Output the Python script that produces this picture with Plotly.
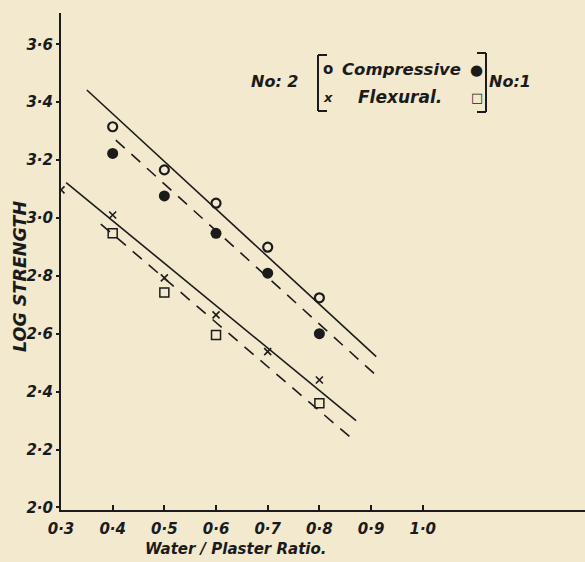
import plotly.graph_objects as go

# ---- data ----
ratio = [0.4, 0.5, 0.6, 0.7, 0.8]
comp_no2 = [3.315, 3.166, 3.051, 2.899, 2.724]     # open circles
comp_no1 = [3.223, 3.076, 2.947, 2.809, 2.600]     # filled circles
flex_ratio_no2 = [0.3, 0.4, 0.5, 0.6, 0.7, 0.8]
flex_no2 = [3.097, 3.010, 2.793, 2.665, 2.538, 2.440]  # crosses
flex_ratio_no1 = [0.4, 0.5, 0.6, 0.8]
flex_no1 = [2.947, 2.742, 2.596, 2.360]            # open squares

# fitted lines (end points)
fit_comp_no2_x = [0.350, 0.910]
fit_comp_no2_y = [3.442, 2.521]
fit_comp_no1_x = [0.406, 0.918]
fit_comp_no1_y = [3.269, 2.443]
fit_flex_no2_x = [0.310, 0.871]
fit_flex_no2_y = [3.122, 2.300]
fit_flex_no1_x = [0.377, 0.866]
fit_flex_no1_y = [2.979, 2.233]

x_ticks = [0.3, 0.4, 0.5, 0.6, 0.7, 0.8, 0.9, 1.0]
x_ticklabels = ["0·3", "0·4", "0·5", "0·6", "0·7", "0·8", "0·9", "1·0"]
y_ticks = [2.0, 2.2, 2.4, 2.6, 2.8, 3.0, 3.2, 3.4, 3.6]
y_ticklabels = ["2·0", "2·2", "2·4", "2·6", "2·8", "3·0", "3·2", "3·4", "3·6"]

# ---- styling ----
INK = "#1b1b1b"
BG = "#f2e9cf"
FONT = "DejaVu Sans"
W, H = 585, 562
L, R, T, B = 61, 0, 13, 52

def pp(x, y):
    """pixel position -> paper coordinates"""
    return (x - L) / (W - L - R), (H - B - y) / (H - T - B)

fig = go.Figure()

fig.add_trace(go.Scatter(x=fit_comp_no2_x, y=fit_comp_no2_y, mode="lines",
                         line=dict(color=INK, width=1.6)))
fig.add_trace(go.Scatter(x=fit_comp_no1_x, y=fit_comp_no1_y, mode="lines",
                         line=dict(color=INK, width=1.6, dash="12px,9px")))
fig.add_trace(go.Scatter(x=fit_flex_no2_x, y=fit_flex_no2_y, mode="lines",
                         line=dict(color=INK, width=1.6)))
fig.add_trace(go.Scatter(x=fit_flex_no1_x, y=fit_flex_no1_y, mode="lines",
                         line=dict(color=INK, width=1.6, dash="12px,9px")))

fig.add_trace(go.Scatter(x=ratio, y=comp_no2, mode="markers",
                         marker=dict(symbol="circle-open", size=9, color=INK,
                                     line=dict(width=2.2, color=INK))))
fig.add_trace(go.Scatter(x=ratio, y=comp_no1, mode="markers",
                         marker=dict(symbol="circle", size=11, color=INK)))
fig.add_trace(go.Scatter(x=flex_ratio_no2, y=flex_no2, mode="markers",
                         marker=dict(symbol="x-thin", size=7, color=INK,
                                     line=dict(width=1.6, color=INK))))
fig.add_trace(go.Scatter(x=flex_ratio_no1, y=flex_no1, mode="markers",
                         marker=dict(symbol="square-open", size=9, color=INK,
                                     line=dict(width=1.5, color=INK))))

tick_font = dict(family=FONT, size=15, color=INK, weight="bold", style="italic")

fig.update_xaxes(range=[0.3, 1.314], tickvals=x_ticks, ticktext=x_ticklabels,
                 showgrid=False, zeroline=False, showline=True, linecolor=INK,
                 linewidth=2, ticks="inside", ticklen=5, tickwidth=1.5,
                 tickcolor=INK, tickfont=tick_font, ticklabelstandoff=4)
fig.update_yaxes(range=[1.991, 3.708], tickvals=y_ticks, ticktext=y_ticklabels,
                 showgrid=False, zeroline=False, showline=True, linecolor=INK,
                 linewidth=2, ticks="outside", ticklen=3, tickwidth=1.5,
                 tickcolor=INK, tickfont=tick_font)

ann = []
def text(x, y, s, size=15, xanchor="center", angle=0, style="italic"):
    px, py = pp(x, y)
    ann.append(dict(x=px, y=py, xref="paper", yref="paper", text=s,
                    showarrow=False, xanchor=xanchor, yanchor="middle",
                    textangle=angle,
                    font=dict(family=FONT, size=size, color=INK,
                              weight="bold", style=style)))

text(235, 549, "Water / Plaster Ratio.", size=15)
text(20, 277, "LOG STRENGTH", size=17.5, angle=-90)
text(274, 81, "No: 2", size=16)
text(510, 81, "No:1", size=16)
text(401, 70, "Compressive", size=16.5)
text(400, 97, "Flexural.", size=17)
text(328, 69, "o", size=15, style="normal")
text(476, 70, "●", size=15)
text(328, 97, "x", size=13)
text(477, 97, "□", size=13)

shapes = []
def seg(x0, y0, x1, y1):
    a = pp(x0, y0); b = pp(x1, y1)
    shapes.append(dict(type="line", xref="paper", yref="paper",
                       x0=a[0], y0=a[1], x1=b[0], y1=b[1],
                       line=dict(color=INK, width=2)))
# brackets around the legend
seg(318, 55, 318, 111); seg(318, 55, 327, 55); seg(318, 111, 327, 111)
seg(486, 53, 486, 112); seg(486, 53, 477, 53); seg(486, 112, 477, 112)

fig.update_layout(width=W, height=H, margin=dict(l=L, r=R, t=T, b=B),
                  paper_bgcolor=BG, plot_bgcolor=BG, showlegend=False,
                  annotations=ann, shapes=shapes)

fig.write_html("out.html", config={"displayModeBar": False},
               post_script="document.body.style.margin='0';"
                           "document.body.style.background='" + BG + "';")
